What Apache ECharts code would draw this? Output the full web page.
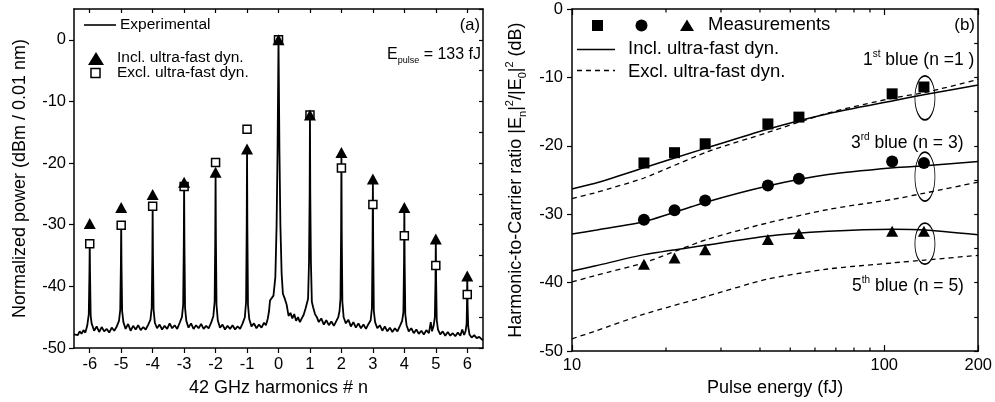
<!DOCTYPE html>
<html>
<head>
<meta charset="utf-8">
<script src="https://cdn.jsdelivr.net/npm/echarts@6/dist/echarts.min.js"></script>
<style>
html, body { margin: 0; padding: 0; background: #fff; }
#chart { width: 995px; height: 402px; }
</style>
</head>
<body>
<div id="chart"></div>
<script>
// ---------- panel (a) : optical spectrum ----------
const harmonics = [-6, -5, -4, -3, -2, -1, 0, 1, 2, 3, 4, 5, 6];
const inclFast = [-29.8, -27.2, -25.1, -23.1, -21.5, -17.7, 0, -12.2, -18.3, -22.6, -27.2, -32.3, -38.3];
const exclFast = [-33.1, -30.1, -27.0, -23.8, -19.9, -14.5, 0, -12.2, -20.8, -26.7, -31.8, -36.6, -41.3];
const powerTicks = [-50, -40, -30, -20, -10, 0];
const powerMinorTicks = [-50, -45, -40, -35, -30, -25, -20, -15, -10, -5, 0, 5];

// measured spectrum [harmonic #, dBm]
const spectrum = [
  [-6.50, -47.8], [-6.44, -47.5], [-6.38, -47.9], [-6.32, -47.3], [-6.26, -47.7], [-6.20, -47.1], [-6.14, -47.5], [-6.08, -46.4], [-6.03, -44.5],
  [-6.01, -38.0], [-6.00, -33.0], [-5.99, -38.0], [-5.97, -44.8],
  [-5.94, -46.0], [-5.86, -47.2], [-5.78, -46.5], [-5.70, -47.4], [-5.62, -46.6], [-5.54, -47.3], [-5.46, -46.9], [-5.38, -47.5], [-5.30, -46.7], [-5.22, -47.2], [-5.14, -46.5], [-5.07, -45.6], [-5.03, -43.8],
  [-5.01, -36.5], [-5.00, -30.1], [-4.99, -36.5], [-4.97, -44.0],
  [-4.93, -45.8], [-4.86, -46.9], [-4.78, -46.1], [-4.70, -47.2], [-4.62, -46.4], [-4.54, -47.0], [-4.46, -46.3], [-4.38, -47.1], [-4.30, -46.6], [-4.22, -47.0], [-4.14, -46.2], [-4.07, -45.4], [-4.03, -43.5],
  [-4.01, -35.0], [-4.00, -27.0], [-3.99, -35.0], [-3.97, -43.8],
  [-3.93, -45.9], [-3.86, -46.8], [-3.78, -46.2], [-3.70, -47.0], [-3.62, -46.4], [-3.54, -46.9], [-3.46, -46.0], [-3.38, -46.8], [-3.30, -46.3], [-3.22, -46.9], [-3.14, -45.9], [-3.07, -45.0], [-3.03, -43.0],
  [-3.01, -33.0], [-3.00, -23.3], [-2.99, -33.0], [-2.97, -43.5],
  [-2.93, -45.6], [-2.86, -46.7], [-2.78, -46.0], [-2.70, -46.9], [-2.62, -46.3], [-2.54, -46.8], [-2.46, -46.1], [-2.38, -46.9], [-2.30, -46.4], [-2.22, -46.8], [-2.14, -45.9], [-2.07, -44.8], [-2.03, -42.5],
  [-2.01, -32.0], [-2.00, -21.5], [-1.99, -32.0], [-1.97, -43.0],
  [-1.93, -45.5], [-1.86, -46.7], [-1.78, -46.2], [-1.70, -47.0], [-1.62, -46.4], [-1.54, -46.9], [-1.46, -46.3], [-1.38, -47.0], [-1.30, -46.5], [-1.22, -46.9], [-1.14, -46.0], [-1.07, -45.0], [-1.03, -42.5],
  [-1.01, -30.0], [-1.00, -17.8], [-0.99, -30.0], [-0.97, -43.0],
  [-0.93, -45.3], [-0.86, -46.5], [-0.78, -46.0], [-0.70, -46.8], [-0.62, -46.2], [-0.54, -46.7], [-0.46, -45.9], [-0.40, -46.3], [-0.34, -45.2], [-0.30, -44.0], [-0.27, -42.3], [-0.22, -42.5], [-0.16, -41.5], [-0.10, -38.5], [-0.06, -30.0], [-0.03, -18.0],
  [0.00, 0.0],
  [0.03, -18.0], [0.06, -30.0], [0.10, -38.0], [0.14, -41.2], [0.20, -42.0], [0.26, -43.0], [0.32, -44.8], [0.38, -44.3], [0.44, -45.2], [0.50, -44.5], [0.56, -45.6], [0.62, -45.0], [0.68, -45.8], [0.74, -45.2], [0.80, -44.6], [0.86, -43.6], [0.90, -43.3], [0.94, -42.0], [0.97, -36.0],
  [0.99, -25.0], [1.00, -12.2], [1.01, -25.0], [1.03, -36.0],
  [1.06, -42.5], [1.10, -43.4], [1.16, -44.5], [1.22, -45.0], [1.28, -45.8], [1.36, -45.2], [1.44, -46.2], [1.52, -45.5], [1.60, -46.3], [1.68, -45.7], [1.76, -46.4], [1.84, -45.6], [1.90, -45.0], [1.94, -44.0], [1.97, -42.0],
  [1.99, -31.0], [2.00, -18.5], [2.01, -31.0], [2.03, -42.5],
  [2.07, -45.0], [2.14, -46.0], [2.22, -45.4], [2.30, -46.5], [2.38, -45.8], [2.46, -46.7], [2.54, -46.0], [2.62, -46.8], [2.70, -46.2], [2.78, -46.9], [2.86, -46.1], [2.93, -45.5], [2.97, -43.5],
  [2.99, -33.0], [3.00, -22.7], [3.01, -33.0], [3.03, -44.0],
  [3.07, -45.8], [3.14, -46.8], [3.22, -46.3], [3.30, -47.2], [3.38, -46.5], [3.46, -47.3], [3.54, -46.7], [3.62, -47.4], [3.70, -46.8], [3.78, -47.3], [3.86, -46.4], [3.93, -45.6], [3.97, -44.2],
  [3.99, -36.0], [4.00, -27.2], [4.01, -36.0], [4.03, -44.5],
  [4.07, -46.3], [4.14, -47.3], [4.22, -46.8], [4.30, -47.6], [4.38, -47.0], [4.46, -47.7], [4.54, -47.2], [4.62, -47.8], [4.70, -47.1], [4.78, -47.6], [4.84, -45.8], [4.88, -47.3], [4.93, -46.4], [4.97, -45.0],
  [4.99, -39.0], [5.00, -32.3], [5.01, -39.0], [5.03, -45.5],
  [5.07, -47.0], [5.14, -47.8], [5.22, -47.3], [5.30, -48.0], [5.38, -47.4], [5.46, -48.0], [5.54, -47.6], [5.62, -48.1], [5.70, -47.5], [5.78, -48.0], [5.84, -47.0], [5.90, -47.9], [5.95, -47.2], [5.98, -46.0],
  [5.99, -43.0], [6.00, -38.3], [6.01, -43.0], [6.03, -46.5],
  [6.07, -47.8], [6.14, -48.3], [6.22, -47.9], [6.30, -48.4], [6.38, -48.2], [6.46, -48.6], [6.50, -48.7]
];

// ---------- panel (b) : harmonic-to-carrier ratio ----------
const energyMeas = [17, 21.3, 26.7, 42.4, 53.3, 106, 134];
const meas1 = [-22.5, -21.0, -19.7, -16.8, -15.8, -12.4, -11.4];
const meas3 = [-30.8, -29.4, -28.0, -25.8, -24.8, -22.3, -22.5];
const meas5 = [-37.3, -36.4, -35.2, -33.7, -32.8, -32.5, -32.5];

const energyModel = [10, 12, 17, 27, 42, 66, 107, 135, 200];
const incl1 = [-26.3, -25.4, -23.2, -20.3, -17.6, -15.3, -13.4, -12.5, -11.1];
const excl1 = [-27.7, -26.8, -24.7, -20.9, -18.1, -15.2, -13.0, -12.2, -10.3];
const incl3 = [-32.9, -32.3, -31.1, -28.2, -25.9, -24.2, -23.2, -22.9, -22.3];
const excl3 = [-39.9, -38.9, -37.1, -33.7, -31.3, -29.3, -27.8, -26.9, -25.3];
const incl5 = [-38.3, -37.5, -35.9, -34.5, -33.2, -32.5, -32.2, -32.3, -33.0];
const excl5 = [-48.2, -47.0, -44.6, -42.0, -39.5, -38.0, -37.1, -36.7, -36.0];

// ellipses marking the 133 fJ points
const ellipseE = [135, 135, 135];
const ellipseY = [-13.0, -24.5, -34.3];

const ratioTicks = [-50, -40, -30, -20, -10, 0];
const ratioMinorTicks = [-50, -45, -40, -35, -30, -25, -20, -15, -10, -5, 0];
const energyMinorTicks = [20, 30, 40, 50, 60, 70, 80, 90];

const font = 'Liberation Sans, Arial, Helvetica, sans-serif';
const black = '#000';

function pairs (xs, ys) {
  return xs.map((x, i) => [x, ys[i]]);
}

const axisLine = { show: true, onZero: false, lineStyle: { color: black, width: 1.5 } };
const tickStyle = { color: black, width: 1.2 };
const labelStyle = { color: black, fontSize: 16.5, fontFamily: font };

const chart = echarts.init(document.getElementById('chart'));

chart.setOption({
  animation: false,
  textStyle: { fontFamily: font, color: black },
  grid: [
    { left: 74, top: 9, width: 409, height: 343 },
    { left: 572, top: 9, width: 408, height: 343 }
  ],
  xAxis: [
    {
      gridIndex: 0, type: 'value', position: 'bottom', min: -6.5, max: 6.5,
      name: '42 GHz harmonics # n', nameLocation: 'middle', nameGap: 31,
      nameTextStyle: { fontSize: 18, color: black, fontFamily: font },
      axisLine: axisLine,
      axisTick: { inside: false, length: 5, customValues: harmonics, lineStyle: tickStyle },
      axisLabel: Object.assign({ customValues: harmonics, margin: 8 }, labelStyle),
      splitLine: { show: false }
    },
    {
      gridIndex: 0, type: 'value', position: 'top', min: -6.5, max: 6.5,
      axisLine: axisLine,
      axisTick: { inside: true, length: 4, customValues: harmonics, lineStyle: tickStyle },
      axisLabel: { show: false },
      splitLine: { show: false }
    },
    {
      gridIndex: 1, type: 'log', logBase: 10, position: 'bottom', min: 10, max: 200,
      name: 'Pulse energy (fJ)', nameLocation: 'middle', nameGap: 23,
      nameTextStyle: { fontSize: 18, color: black, fontFamily: font },
      axisLine: axisLine,
      axisTick: { inside: true, length: 6, lineStyle: tickStyle },
      axisLabel: Object.assign({ margin: 6 }, labelStyle),
      minorTick: { show: false },
      splitLine: { show: false }
    },
    {
      gridIndex: 1, type: 'log', logBase: 10, position: 'top', min: 10, max: 200,
      axisLine: axisLine,
      axisTick: { inside: true, length: 6, lineStyle: tickStyle },
      axisLabel: { show: false },
      splitLine: { show: false }
    }
  ],
  yAxis: [
    {
      gridIndex: 0, type: 'value', position: 'left', min: -50, max: 5,
      name: 'Normalized power (dBm / 0.01 nm)', nameLocation: 'middle', nameGap: 45,
      nameTextStyle: { fontSize: 18, color: black, fontFamily: font },
      axisLine: axisLine,
      axisTick: { inside: false, length: 5, customValues: powerTicks, lineStyle: tickStyle },
      axisLabel: Object.assign({ customValues: powerTicks, margin: 8 }, labelStyle),
      splitLine: { show: false }
    },
    {
      gridIndex: 0, type: 'value', position: 'right', min: -50, max: 5,
      axisLine: axisLine,
      axisTick: { inside: true, length: 4, customValues: powerMinorTicks, lineStyle: tickStyle },
      axisLabel: { show: false },
      splitLine: { show: false }
    },
    {
      gridIndex: 1, type: 'value', position: 'left', min: -50, max: 0,
      name: '{t|Harmonic-to-Carrier ratio |E}{sub|n}{t||}{sup|2}{t|/|E}{sub|0}{t||}{sup|2}{t| (dB)}',
      nameLocation: 'middle', nameGap: 44,
      nameTextStyle: {
        fontSize: 18, color: black, fontFamily: font,
        rich: {
          t: { fontSize: 18, lineHeight: 24, fontFamily: font, color: black },
          sup: { fontSize: 11, lineHeight: 12, verticalAlign: 'top', fontFamily: font, color: black },
          sub: { fontSize: 11, lineHeight: 12, verticalAlign: 'bottom', fontFamily: font, color: black }
        }
      },
      axisLine: axisLine,
      axisTick: { inside: false, length: 5, customValues: ratioTicks, lineStyle: tickStyle },
      axisLabel: Object.assign({ customValues: ratioTicks, margin: 9 }, labelStyle),
      splitLine: { show: false }
    },
    {
      gridIndex: 1, type: 'value', position: 'right', min: -50, max: 0,
      axisLine: axisLine,
      axisTick: { inside: true, length: 4, customValues: ratioMinorTicks, lineStyle: tickStyle },
      axisLabel: { show: false },
      splitLine: { show: false }
    }
  ],
  series: [
    // (a)
    {
      name: 'Experimental', type: 'line', xAxisIndex: 0, yAxisIndex: 0,
      data: spectrum, showSymbol: false, symbol: 'none',
      lineStyle: { color: black, width: 1.8 }, z: 2
    },
    {
      name: 'Excl. ultra-fast dyn.', type: 'scatter', xAxisIndex: 0, yAxisIndex: 0,
      data: pairs(harmonics, exclFast), symbol: 'rect', symbolSize: 8,
      itemStyle: { color: '#fff', borderColor: black, borderWidth: 1.5, opacity: 1 }, z: 3
    },
    {
      name: 'Incl. ultra-fast dyn.', type: 'scatter', xAxisIndex: 0, yAxisIndex: 0,
      data: pairs(harmonics, inclFast), symbol: 'triangle', symbolSize: [12, 11],
      itemStyle: { color: black, opacity: 1 }, z: 4
    },
    // (b) model curves
    ...[[incl1, 'solid'], [excl1, 'dashed'], [incl3, 'solid'], [excl3, 'dashed'], [incl5, 'solid'], [excl5, 'dashed']].map(([ys, kind]) => ({
      type: 'line', xAxisIndex: 2, yAxisIndex: 2,
      data: pairs(energyModel, ys), showSymbol: false, symbol: 'none',
      smooth: 0.2,
      lineStyle: kind === 'solid' ? { color: black, width: 1.5 } : { color: black, width: 1.3, type: [5, 4] }
    })),
    // (b) measurements
    {
      type: 'scatter', xAxisIndex: 2, yAxisIndex: 2, data: pairs(energyMeas, meas1),
      symbol: 'rect', symbolSize: 11, itemStyle: { color: black, opacity: 1 }, z: 4
    },
    {
      type: 'scatter', xAxisIndex: 2, yAxisIndex: 2, data: pairs(energyMeas, meas3),
      symbol: 'circle', symbolSize: 12, itemStyle: { color: black, opacity: 1 }, z: 4
    },
    {
      type: 'scatter', xAxisIndex: 2, yAxisIndex: 2, data: pairs(energyMeas, meas5),
      symbol: 'triangle', symbolSize: [12, 11], itemStyle: { color: black, opacity: 1 }, z: 4
    },
    // ellipses
    {
      type: 'scatter', xAxisIndex: 2, yAxisIndex: 2,
      data: ellipseE.map((e, i) => ({ value: [e, ellipseY[i]], symbolSize: [[20, 44], [20, 49], [20, 41]][i] })),
      symbol: 'circle',
      itemStyle: { color: 'rgba(0,0,0,0)', borderColor: black, borderWidth: 1.2, opacity: 1 }, z: 5
    },
    // minor log ticks (bottom and top), placed through the log axis
    {
      type: 'custom', xAxisIndex: 2, yAxisIndex: 2, silent: true, clip: false,
      data: energyMinorTicks.map(e => [e, -50]),
      encode: { x: 0, y: 1 },
      renderItem: (params, api) => {
        const b = api.coord([api.value(0), -50]);
        const t = api.coord([api.value(0), 0]);
        return {
          type: 'group',
          children: [
            { type: 'line', shape: { x1: b[0], y1: b[1], x2: b[0], y2: b[1] - 3.5 }, style: { stroke: black, lineWidth: 1.2 } },
            { type: 'line', shape: { x1: t[0], y1: t[1], x2: t[0], y2: t[1] + 3.5 }, style: { stroke: black, lineWidth: 1.2 } }
          ]
        };
      }
    }
  ],
  graphic: [
    // legend (a)
    { type: 'line', shape: { x1: 84, y1: 25, x2: 116, y2: 25 }, style: { stroke: black, lineWidth: 1.6 } },
    { type: 'text', x: 120, y: 25, style: { text: 'Experimental', font: '15.5px ' + font, fill: black, verticalAlign: 'middle' } },
    { type: 'polygon', shape: { points: [[96, 52], [104, 65], [88, 65]] }, style: { fill: black } },
    { type: 'text', x: 117, y: 58, style: { text: 'Incl. ultra-fast dyn.', font: '15.5px ' + font, fill: black, verticalAlign: 'middle' } },
    { type: 'rect', shape: { x: 91, y: 68.5, width: 9, height: 9 }, style: { fill: '#fff', stroke: black, lineWidth: 1.5 } },
    { type: 'text', x: 117, y: 73, style: { text: 'Excl. ultra-fast dyn.', font: '15.5px ' + font, fill: black, verticalAlign: 'middle' } },
    { type: 'text', x: 480, y: 25, style: { text: '(a)', font: '16.5px ' + font, fill: black, align: 'right', verticalAlign: 'middle' } },
    {
      type: 'text', x: 481, y: 55,
      style: {
        text: '{a|E}{s|pulse}{a| = 133 fJ}', align: 'right', verticalAlign: 'middle',
        rich: {
          a: { fontSize: 16, lineHeight: 20, fontFamily: font, color: black },
          s: { fontSize: 9, lineHeight: 10, verticalAlign: 'bottom', fontFamily: font, color: black }
        }
      }
    },
    // legend (b)
    { type: 'rect', shape: { x: 592, y: 20, width: 11, height: 11 }, style: { fill: black } },
    { type: 'circle', shape: { cx: 641.5, cy: 25.5, r: 6 }, style: { fill: black } },
    { type: 'polygon', shape: { points: [[687, 19.5], [694, 31], [680, 31]] }, style: { fill: black } },
    { type: 'text', x: 708, y: 25, style: { text: 'Measurements', font: '18.5px ' + font, fill: black, verticalAlign: 'middle' } },
    { type: 'line', shape: { x1: 577, y1: 49.5, x2: 615, y2: 49.5 }, style: { stroke: black, lineWidth: 1.5 } },
    { type: 'text', x: 628, y: 49, style: { text: 'Incl. ultra-fast dyn.', font: '18.5px ' + font, fill: black, verticalAlign: 'middle' } },
    { type: 'line', shape: { x1: 577, y1: 70.5, x2: 615, y2: 70.5 }, style: { stroke: black, lineWidth: 1.3, lineDash: [5, 4] } },
    { type: 'text', x: 628, y: 72, style: { text: 'Excl. ultra-fast dyn.', font: '18.5px ' + font, fill: black, verticalAlign: 'middle' } },
    { type: 'text', x: 975, y: 25, style: { text: '(b)', font: '17px ' + font, fill: black, align: 'right', verticalAlign: 'middle' } },
    // harmonic labels
    ...[['1', 'st', ' blue (n =1 )', 863, 60], ['3', 'rd', ' blue (n = 3)', 851, 143], ['5', 'th', ' blue (n = 5)', 852, 286]].map(([n, suf, rest, x, y]) => ({
      type: 'text', x: x, y: y,
      style: {
        text: '{b|' + n + '}{s|' + suf + '}{b|' + rest + '}', verticalAlign: 'middle',
        rich: {
          b: { fontSize: 17.5, lineHeight: 22, fontFamily: font, color: black },
          s: { fontSize: 10, lineHeight: 11, verticalAlign: 'top', fontFamily: font, color: black }
        }
      }
    }))
  ]
});
</script>
</body>
</html>
